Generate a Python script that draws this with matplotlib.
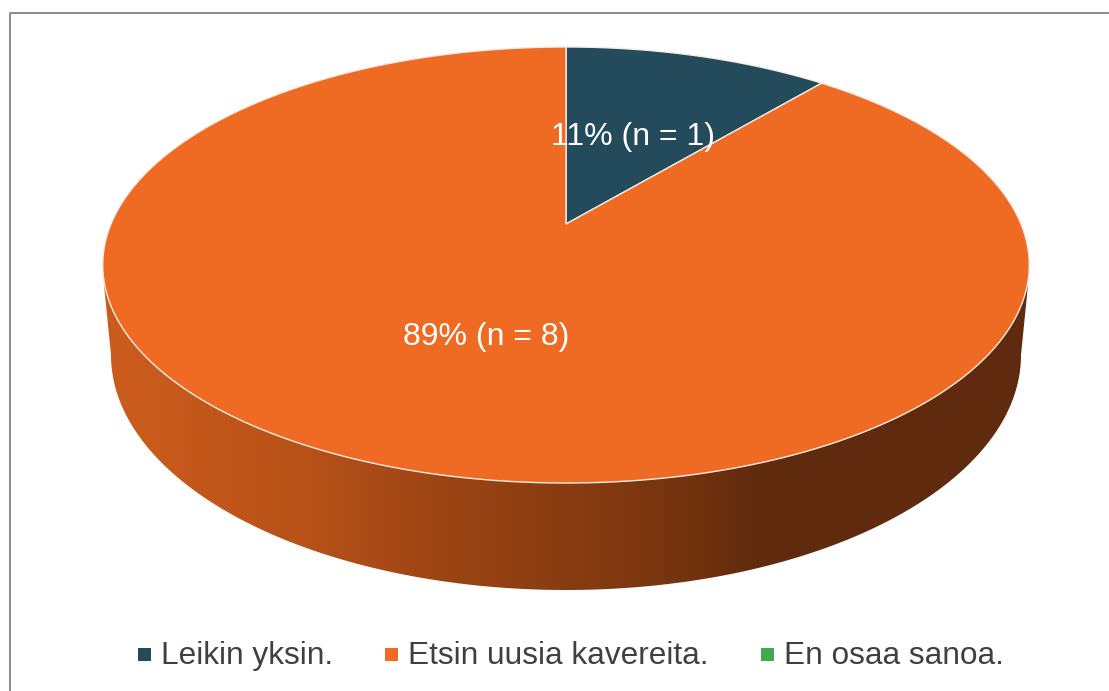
import numpy as np
import matplotlib
matplotlib.use('Agg')
import matplotlib.pyplot as plt
from matplotlib.patches import Polygon, Rectangle

plt.rcParams['font.family'] = ['Liberation Sans', 'DejaVu Sans']

# dane
categories = ['Leikin yksin.', 'Etsin uusia kavereita.', 'En osaa sanoa.']
values = [1, 8, 0]
labels = ['11% (n = 1)', '89% (n = 8)']
colors = ['#234b5b', '#ef6a22', '#44a850']

fig = plt.figure(figsize=(11.09, 6.91), dpi=100)
ax = fig.add_axes([0, 0, 1, 1])
ax.set_xlim(0, 1109)
ax.set_ylim(691, 0)
ax.axis('off')


# rzut perspektywiczny kola na ekran
def project(theta, k=455, a=-168.2, b=224, c=0.188):
    u, v = np.sin(theta), np.cos(theta)
    w = c * v + 1
    return 566 + k * u / w, (a * v + b) / w


# ramka wykresu (bez dolnej krawedzi)
ax.plot([9.5, 9.5, 1108], [691, 13, 13], color='#8c8c8c', lw=1.4)

# bok walca z gradientem
t = np.linspace(np.pi, 2 * np.pi, 361)
side = np.column_stack([566 + 455 * np.cos(t), 355 - 235 * np.sin(t)])
side = np.vstack([[104, 285], side, [1028, 285]])
grad_x = [103, 160, 300, 450, 600, 700, 760, 850, 1029]
grad_c = ['#cb5c1d', '#c85a1c', '#b85218', '#9a4414', '#843a11', '#70320e', '#5f2a0e', '#5f2a0e', '#5f2a0e']
rgb = np.array([matplotlib.colors.to_rgb(c) for c in grad_c])
xs = np.arange(103, 1030)
img = np.stack([np.interp(xs, grad_x, rgb[:, i]) for i in range(3)], axis=-1)[None, :, :]
im = ax.imshow(img, extent=(103, 1030, 600, 250), aspect='auto', zorder=1)
clip = Polygon(side, closed=True, transform=ax.transData, fill=False, edgecolor='none')
ax.add_patch(clip)
im.set_clip_path(clip)
ax.set_xlim(0, 1109)
ax.set_ylim(691, 0)

# wycinki
share = np.cumsum([0] + values) / sum(values) * 2 * np.pi
for i in range(len(values)):
    if values[i] == 0:
        continue
    th = np.linspace(share[i], share[i + 1], 400)
    px, py = project(th)
    pts = np.vstack([[566, 224], np.column_stack([px, py])])
    ax.add_patch(Polygon(pts, closed=True, facecolor=colors[i], edgecolor='#f7ece4', lw=1.0, zorder=2))

ax.text(633, 137, labels[0], color='white', fontsize=23, ha='center', va='center', zorder=3)
ax.text(486, 337, labels[1], color='white', fontsize=23, ha='center', va='center', zorder=3)

# legenda
leg_x = [138, 385, 761]
for i in range(3):
    ax.add_patch(Rectangle((leg_x[i], 648), 13, 13, facecolor=colors[i], edgecolor='none', zorder=3))
    ax.text(leg_x[i] + 23, 656, categories[i], color='#404040', fontsize=22.8, ha='left', va='center', zorder=3)

fig.savefig('out.png', dpi=100)
